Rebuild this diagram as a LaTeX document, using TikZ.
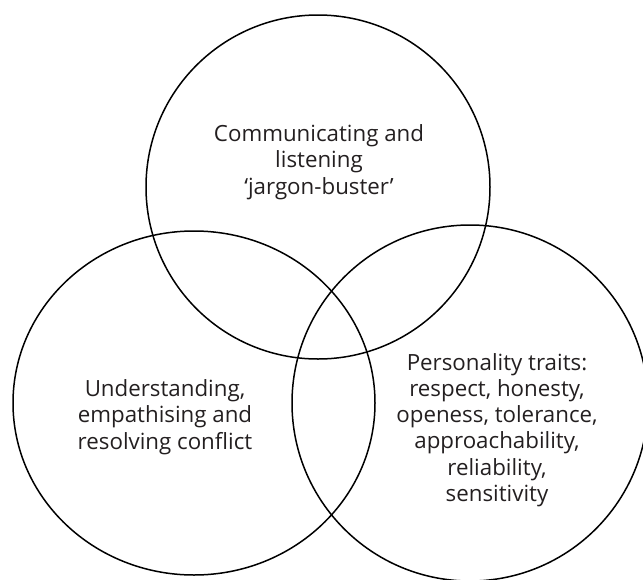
\documentclass[tikz,border=0pt]{standalone}
\usepackage{fontspec}
\setmainfont{Open Sans}
\definecolor{txt}{HTML}{231F20}
\begin{document}
\begin{tikzpicture}[x=1pt,y=-1pt,
  ring/.style={draw=black,line width=1.5pt},
  lbl/.style={align=center,text=txt,font=\fontsize{22.3}{26.3}\selectfont,inner sep=0pt}]
\useasboundingbox (0,0) rectangle (643,579);
\clip (0,0) rectangle (643,579);
\draw[ring] (318,187) circle (172);
\draw[ring] (194,403) ellipse (181 and 172);
\draw[ring] (470,403) circle (178);
\node[lbl] (top) at (319,162) {Communicating and\\listening\\‘jargon-buster’};
\node[lbl] (left) at (165,417) {Understanding,\\empathising and\\resolving conflict};
\node[lbl] (right) at (497,430) {Personality traits:\\respect, honesty,\\openess, tolerance,\\approachability,\\reliability,\\sensitivity};
\end{tikzpicture}
\end{document}
